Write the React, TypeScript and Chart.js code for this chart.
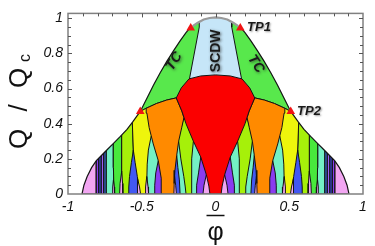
import React, { useEffect, useRef } from 'react';
import { Chart, registerables } from 'chart.js';

Chart.register(...registerables);

type Pt = [number, number];

// ---- axes ----
const X_TICKS = [-1, -0.5, 0, 0.5, 1];
const Y_TICKS = [0, 0.2, 0.4, 0.6, 0.8, 1];

// ---- outer boundary (left half, bottom -> TP1) ----
const ENVELOPE_LEFT: Pt[] = [
  [-0.905, 0], [-0.892, 0.05], [-0.87, 0.1], [-0.84, 0.15], [-0.808, 0.19],
  [-0.77, 0.222], [-0.735, 0.252], [-0.69, 0.29], [-0.645, 0.328], [-0.6, 0.368],
  [-0.56, 0.412], [-0.51, 0.47], [-0.465, 0.545], [-0.42, 0.62], [-0.375, 0.69],
  [-0.33, 0.755], [-0.285, 0.815], [-0.24, 0.872], [-0.2, 0.918], [-0.168, 0.95],
];
// gray arc over SCDW (left half)
const TOP_ARC_LEFT: Pt[] = [[-0.155, 0.955], [-0.12, 0.975], [-0.08, 0.993], [-0.04, 1.002], [0, 1.005]];

// tricritical points
const TP_X = [-0.168, 0.168, -0.51, 0.51];
const TP_Y = [0.945, 0.945, 0.47, 0.47];

// ---- symmetric regions (left half, mirrored) ----
const TC_HALF: Pt[] = [[0, 1.2], [-0.95, 1.2], [-0.95, 0.47], [-0.51, 0.47], [-0.47, 0.488], [-0.4, 0.515], [-0.33, 0.535], [-0.266, 0.547], [0, 0.547]];
const SCDW_HALF: Pt[] = [[0, 0.64], [-0.18, 0.64], [-0.11, 0.95], [-0.11, 1.2], [0, 1.2]];
const RED_HALF: Pt[] = [[0, 0], [-0.038, 0], [-0.045, 0.045], [-0.062, 0.11], [-0.1, 0.21], [-0.15, 0.3], [-0.2, 0.4], [-0.228, 0.472], [-0.266, 0.547], [-0.232, 0.604], [-0.18, 0.655], [-0.1, 0.672], [0, 0.678]];

// ---- left-half regions (each also mirrored to the right) ----
const PINK_OUT: Pt[] = [[-0.95, 0], [-0.95, 0.6], [-0.808, 0.6], [-0.808, 0]];
const STRIPE_1: Pt[] = [[-0.808, 0], [-0.808, 0.6], [-0.79, 0.6], [-0.79, 0]];
const STRIPE_2: Pt[] = [[-0.79, 0], [-0.79, 0.6], [-0.774, 0.6], [-0.774, 0]];
const STRIPE_3: Pt[] = [[-0.774, 0], [-0.774, 0.6], [-0.756, 0.6], [-0.756, 0]];
const STRIPE_4: Pt[] = [[-0.756, 0], [-0.756, 0.6], [-0.74, 0.6], [-0.74, 0]];
const CYAN_COL: Pt[] = [[-0.74, 0], [-0.74, 0.6], [-0.693, 0.6], [-0.692, 0.15], [-0.688, 0]];
const GREEN_COL: Pt[] = [[-0.688, 0], [-0.692, 0.15], [-0.693, 0.6], [-0.636, 0.6], [-0.636, 0.2], [-0.634, 0]];
const YG_COL: Pt[] = [[-0.634, 0], [-0.636, 0.2], [-0.636, 0.6], [-0.564, 0.6], [-0.564, 0.41], [-0.557, 0.25], [-0.555, 0]];
const YELLOW_COL: Pt[] = [[-0.555, 0], [-0.557, 0.25], [-0.564, 0.41], [-0.58, 0.45], [-0.51, 0.47], [-0.47, 0.488], [-0.4, 0.45], [-0.35, 0]];

const PINK_L1: Pt[] = [[-0.7, 0], [-0.697, 0.04], [-0.692, 0.08], [-0.686, 0.04], [-0.684, 0]];
const PINK_L2: Pt[] = [[-0.65, 0], [-0.647, 0.06], [-0.636, 0.13], [-0.63, 0.06], [-0.628, 0]];
const BLUE_L: Pt[] = [[-0.587, 0], [-0.588, 0.04], [-0.583, 0.1], [-0.57, 0.18], [-0.557, 0.25], [-0.545, 0.18], [-0.53, 0.1], [-0.52, 0.04], [-0.52, 0]];
const PINK_L3: Pt[] = [[-0.53, 0], [-0.531, 0.04], [-0.527, 0.09], [-0.515, 0.04], [-0.508, 0]];

const CYAN_YO: Pt[] = [[-0.458, 0], [-0.462, 0.04], [-0.465, 0.1], [-0.463, 0.17], [-0.455, 0.25], [-0.436, 0.33], [-0.41, 0.3], [-0.36, 0.2], [-0.34, 0]];
const PINK_YO: Pt[] = [[-0.476, 0], [-0.474, 0.04], [-0.466, 0.1], [-0.457, 0.04], [-0.454, 0]];
const PURPLE_YO: Pt[] = [[-0.413, 0], [-0.412, 0.05], [-0.405, 0.12], [-0.388, 0.19], [-0.36, 0.15], [-0.34, 0]];

const YG_OR: Pt[] = [[-0.214, 0.435], [-0.12, 0.3], [-0.03, 0.1], [-0.03, 0], [-0.3, 0], [-0.26, 0.3]];
const CYAN_O: Pt[] = [[-0.2, 0], [-0.205, 0.04], [-0.215, 0.1], [-0.235, 0.2], [-0.25, 0.3], [-0.29, 0.2], [-0.3, 0]];
const BLUE_O: Pt[] = [[-0.24, 0], [-0.245, 0.08], [-0.255, 0.15], [-0.263, 0.22], [-0.3, 0.15], [-0.31, 0]];
const PINK_O: Pt[] = [[-0.265, 0], [-0.27, 0.05], [-0.277, 0.1], [-0.31, 0.06], [-0.32, 0]];
const CYAN_R: Pt[] = [[-0.16, 0], [-0.163, 0.1], [-0.16, 0.2], [-0.15, 0.3], [-0.1, 0.25], [0, 0.1], [0, 0]];
const PURPLE_R: Pt[] = [[-0.13, 0], [-0.128, 0.05], [-0.115, 0.12], [-0.1, 0.21], [-0.05, 0.15], [0, 0]];
const PINK_R: Pt[] = [[-0.085, 0], [-0.078, 0.05], [-0.062, 0.11], [-0.03, 0.08], [0, 0]];

const ORANGE: Pt[] = [[-0.368, 0], [-0.368, 0.09], [-0.388, 0.19], [-0.422, 0.285], [-0.45, 0.378], [-0.465, 0.46], [-0.47, 0.488], [-0.4, 0.515], [-0.33, 0.535], [-0.266, 0.547], [-0.228, 0.472], [-0.214, 0.435], [-0.229, 0.378], [-0.25, 0.3], [-0.263, 0.22], [-0.275, 0.135], [-0.28, 0.06], [-0.282, 0]];

// ---- labels ----
const ANNOTATIONS = [
  { text: 'TC', x: -0.28, y: 0.755, angle: -57, kind: 'tc' },
  { text: 'TC', x: 0.274, y: 0.74, angle: 57, kind: 'tc' },
  { text: 'SCDW', x: 0.007, y: 0.815, angle: -90, kind: 'scdw' },
  { text: 'TP1', x: 0.214, y: 0.947, angle: 0, kind: 'tp' },
  { text: 'TP2', x: 0.553, y: 0.472, angle: 0, kind: 'tp' },
];

const C = {
  pink: '#f2a6f2', purple: '#8a3cf0', blue: '#4258f2', violet: '#9a5cf5', blue2: '#3c7cf0',
  cyan: '#74f0c4', green: '#48e83c', yg: '#a6f00a', yellow: '#eef50c', orange: '#ff8a00',
  red: '#fb0000', tc: '#58e84c', scdw: '#c6e6f8',
};

const mirror = (p: Pt[]): Pt[] => p.map(([x, y]) => [-x, y] as Pt);
const fullSym = (half: Pt[]): Pt[] => [...half, ...mirror(half.slice().reverse()).slice(1)];
const close = (p: Pt[]): Pt[] => [...p, p[0]];

function polyDataset(pts: Pt[], color: string, border = 1) {
  return {
    data: close(pts).map(([x, y]) => ({ x, y })),
    showLine: true,
    fill: 'shape',
    backgroundColor: color,
    borderColor: border ? '#141414' : 'rgba(0,0,0,0)',
    borderWidth: border,
    pointRadius: 0,
    pointHoverRadius: 0,
    pointHitRadius: 0,
    tension: 0,
  };
}

function lineDataset(pts: Pt[], color: string, width: number) {
  return {
    data: pts.map(([x, y]) => ({ x, y })),
    showLine: true,
    fill: false,
    borderColor: color,
    borderWidth: width,
    pointRadius: 0,
    pointHoverRadius: 0,
    pointHitRadius: 0,
    tension: 0,
  };
}

const decorPlugin = {
  id: 'decor',
  afterDatasetsDraw(chart: any) {
    const { ctx, chartArea: a, scales } = chart;
    const xs = scales.x, ys = scales.y;
    ctx.save();
    for (const an of ANNOTATIONS) {
      const px = xs.getPixelForValue(an.x), py = ys.getPixelForValue(an.y);
      ctx.save();
      ctx.translate(px, py);
      ctx.rotate((an.angle * Math.PI) / 180);
      ctx.textBaseline = 'middle';
      if (an.kind === 'tp') {
        ctx.font = 'italic bold 13px "Liberation Sans"';
        ctx.textAlign = 'left';
        ctx.shadowColor = 'rgba(0,0,0,0.4)';
        ctx.shadowBlur = 2;
        ctx.shadowOffsetX = 1;
        ctx.shadowOffsetY = 1;
      } else {
        ctx.font = an.kind === 'tc' ? 'italic bold 14px "Liberation Sans"' : 'bold 14px "Liberation Sans"';
        ctx.textAlign = 'center';
        ctx.shadowColor = 'rgba(40,40,40,0.75)';
        ctx.shadowBlur = 3;
        ctx.shadowOffsetX = 1;
        ctx.shadowOffsetY = 1;
      }
      ctx.fillStyle = '#1a1a1a';
      ctx.fillText(an.text, 0, 0);
      ctx.restore();
    }
    // frame
    ctx.strokeStyle = '#808080';
    ctx.lineWidth = 1.5;
    ctx.strokeRect(a.left, a.top, a.right - a.left, a.bottom - a.top);
    // inward ticks
    ctx.lineWidth = 1;
    ctx.strokeStyle = '#555';
    ctx.beginPath();
    for (let i = -9; i <= 9; i++) {
      const px = Math.round(xs.getPixelForValue(i / 10)) + 0.5;
      const len = i % 5 === 0 ? 4 : 3;
      ctx.moveTo(px, a.top);
      ctx.lineTo(px, a.top + len);
    }
    for (let i = 1; i <= 20; i++) {
      const py = Math.round(ys.getPixelForValue(i * 0.05)) + 0.5;
      const len = i % 4 === 0 ? 4 : 3;
      ctx.moveTo(a.left, py);
      ctx.lineTo(a.left + len, py);
      ctx.moveTo(a.right, py);
      ctx.lineTo(a.right - len, py);
    }
    ctx.stroke();
    ctx.restore();
  },
  afterDraw(chart: any) {
    const { ctx, scales } = chart;
    const cx = scales.x.getPixelForValue(0);
    ctx.save();
    ctx.fillStyle = '#111';
    // x title: phi with overline
    ctx.font = '25px "Liberation Sans"';
    ctx.textAlign = 'center';
    ctx.textBaseline = 'alphabetic';
    ctx.fillText('\u03C6', cx, 240);
    ctx.strokeStyle = '#111';
    ctx.lineWidth = 1.5;
    ctx.beginPath();
    ctx.moveTo(cx - 9, 215.5);
    ctx.lineTo(cx + 9, 215.5);
    ctx.stroke();
    // y title: Q / Q_c
    ctx.translate(20, 0);
    ctx.rotate(-Math.PI / 2);
    ctx.textBaseline = 'middle';
    ctx.font = '26px "Liberation Sans"';
    ctx.fillText('Q', -139, 0);
    ctx.fillText('/', -108, 0);
    ctx.fillText('Q', -78, 0);
    ctx.font = '16px "Liberation Sans"';
    ctx.fillText('c', -58, 6);
    ctx.restore();
  },
};

export default function App() {
  const ref = useRef<HTMLCanvasElement>(null);
  useEffect(() => {
    document.body.style.margin = '0';
    const layers: any[] = [];
    const add = (p: Pt[], color: string, sym = true) => {
      layers.push(polyDataset(p, color));
      if (sym) layers.push(polyDataset(mirror(p), color));
    };
    layers.push(polyDataset(fullSym(TC_HALF), C.tc));
    add(PINK_OUT, C.pink);
    add(STRIPE_1, C.purple);
    add(STRIPE_2, C.blue);
    add(STRIPE_3, C.violet);
    add(STRIPE_4, C.blue2);
    add(CYAN_COL, C.cyan);
    add(GREEN_COL, C.green);
    add(YG_COL, C.yg);
    add(YELLOW_COL, C.yellow);
    add(PINK_L1, C.pink);
    add(PINK_L2, C.pink);
    add(BLUE_L, C.blue);
    add(PINK_L3, C.pink);
    add(CYAN_YO, C.cyan);
    add(PINK_YO, C.pink);
    add(PURPLE_YO, C.purple);
    add(YG_OR, C.yg);
    add(CYAN_O, C.cyan);
    add(BLUE_O, C.blue);
    add(PINK_O, C.pink);
    add(CYAN_R, C.cyan);
    add(PURPLE_R, C.purple);
    add(PINK_R, C.pink);
    add(ORANGE, C.orange);
    layers.push(polyDataset(fullSym(SCDW_HALF), C.scdw));
    layers.push(polyDataset(fullSym(RED_HALF), C.red));
    const arcFull = fullSym(TOP_ARC_LEFT.slice()).slice(0, TOP_ARC_LEFT.length * 2 - 1);
    const mask: Pt[] = [
      [-1.2, -0.1], [-0.92, -0.1], ...ENVELOPE_LEFT, ...arcFull,
      ...mirror(ENVELOPE_LEFT.slice().reverse()), [0.92, -0.1], [1.2, -0.1], [1.2, 1.3], [-1.2, 1.3],
    ];
    layers.push(polyDataset(mask, '#ffffff', 0));
    layers.push(lineDataset(ENVELOPE_LEFT, '#141414', 1.2));
    layers.push(lineDataset(mirror(ENVELOPE_LEFT), '#141414', 1.2));
    layers.push(lineDataset(arcFull, '#9a9a9a', 2.2));
    layers.push({
      data: TP_X.map((x, i) => ({ x, y: TP_Y[i] })),
      showLine: false,
      pointStyle: 'triangle',
      pointRadius: 5,
      pointHoverRadius: 5,
      backgroundColor: '#f01414',
      borderWidth: 0,
    });
    const datasets = layers.slice().reverse();

    const tickFont = { family: '"Liberation Sans"', size: 14, style: 'italic' as const };
    const chart = new Chart(ref.current!, {
      type: 'scatter',
      data: { datasets },
      options: {
        animation: false,
        responsive: false,
        events: [],
        layout: { padding: { top: 11, right: 12, left: 0, bottom: 0 } },
        plugins: { legend: { display: false }, tooltip: { enabled: false } },
        scales: {
          x: {
            type: 'linear',
            min: -1,
            max: 1,
            grid: { display: false, drawTicks: false },
            border: { display: false },
            afterBuildTicks: (s: any) => { s.ticks = X_TICKS.map((v) => ({ value: v })); },
            afterFit: (s: any) => { s.height = 52; },
            ticks: { font: tickFont, color: '#111', padding: 5, maxRotation: 0, callback: (v: any) => String(v) },
          },
          y: {
            type: 'linear',
            min: 0,
            max: 1.028,
            grid: { display: false, drawTicks: false },
            border: { display: false },
            afterBuildTicks: (s: any) => { s.ticks = Y_TICKS.map((v) => ({ value: v })); },
            afterFit: (s: any) => { s.width = 68; },
            ticks: { font: tickFont, color: '#111', padding: 5, callback: (v: any) => String(v) },
          },
        },
      } as any,
      plugins: [decorPlugin],
    });
    return () => chart.destroy();
  }, []);
  return (
    <div style={{ width: 375, height: 246 }}>
      <canvas ref={ref} width={375} height={246} style={{ display: 'block', width: 375, height: 246 }} />
    </div>
  );
}
